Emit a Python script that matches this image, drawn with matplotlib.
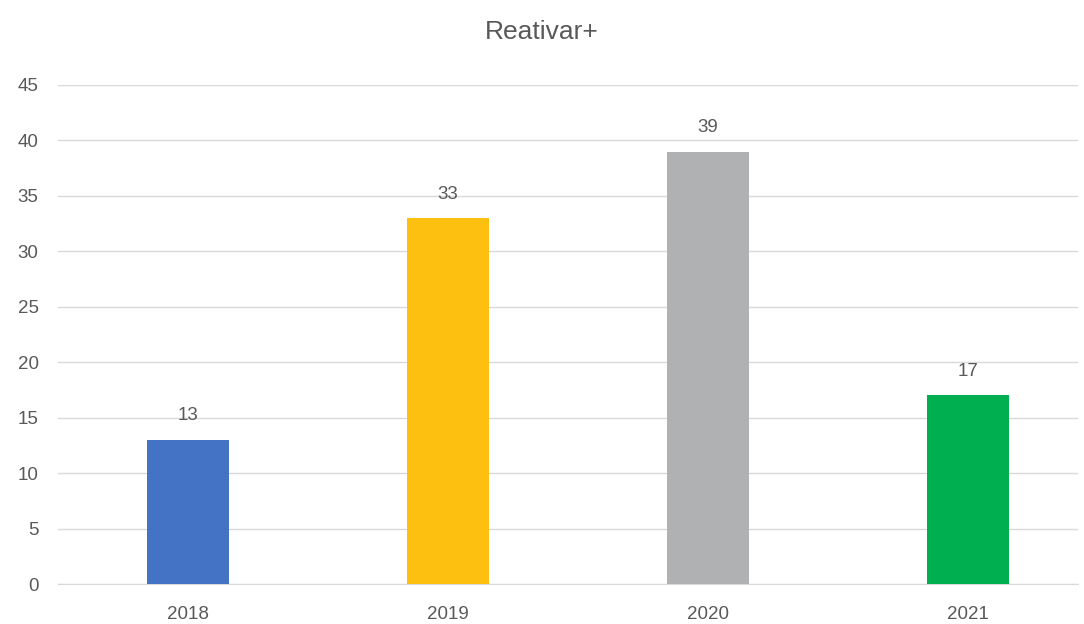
import matplotlib
matplotlib.use("Agg")
import matplotlib.pyplot as plt

years = ["2018", "2019", "2020", "2021"]
values = [13, 33, 39, 17]
colors = ["#4472C4", "#FDC010", "#B0B1B2", "#00B050"]
yticks = list(range(0, 50, 5))

plt.rcParams["font.family"] = ["Liberation Sans", "DejaVu Sans"]
text_color = "#595959"

fig = plt.figure(figsize=(10.84, 6.24), dpi=100)
ax = fig.add_axes([0.0535, 0.0641, 0.941, 0.7997])

x = range(len(years))
bars = ax.bar(x, values, width=0.315, color=colors, zorder=3)
for xi, v in zip(x, values):
    ax.text(xi, v + 1.4, str(v), ha="center", va="bottom",
            fontsize=13.5, color=text_color)

# plot area in the original runs a bit past the last gridline
ax.set_xlim(-0.5, 3.423)
ax.set_ylim(0, 45)
ax.set_yticks(yticks)
ax.set_xticks(list(x))
ax.set_xticklabels(years)
ax.tick_params(axis="both", length=0, labelsize=13.5, labelcolor=text_color)
ax.tick_params(axis="x", pad=16)
ax.tick_params(axis="y", pad=14)
ax.grid(axis="y", color="#D9D9D9", linewidth=1, zorder=0)
for s in ["top", "right", "left"]:
    ax.spines[s].set_visible(False)
ax.spines["bottom"].set_color("#D9D9D9")

fig.text(0.5, 0.948, "Reativar+", ha="center", va="center",
         fontsize=19, color=text_color)

fig.savefig("out.png", dpi=100)
